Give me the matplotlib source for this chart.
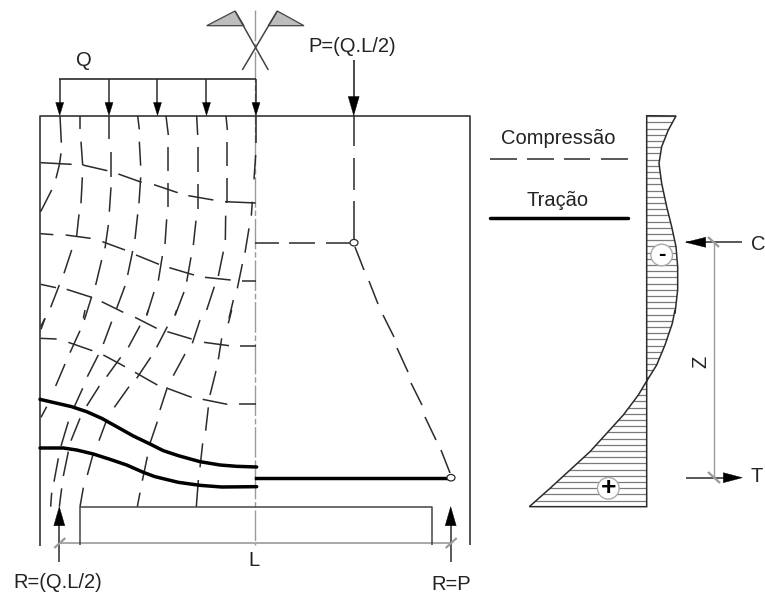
import numpy as np
import matplotlib
matplotlib.use("Agg")
import matplotlib.pyplot as plt
from matplotlib.patches import Polygon, Ellipse, Circle

plt.rcParams['font.family'] = ['Liberation Sans', 'DejaVu Sans']

DARK = '#2b2b2b'
MID = '#444444'
GRAY = '#9a9a9a'
FS = 14.5

# strut segments measured on the upper-left region (x0=30, y0=100, scale 3)
upper_struts = [
    [(90,48),(94,128)], [(93,160),(88,195),(78,235)], [(65,270),(32,335)],
    [(150,48),(150,88)], [(153,125),(158,195)], [(157,232),(153,310)], [(147,343),(140,408)],
    [(125,450),(102,520)], [(88,555),(62,622)], [(45,655),(32,680)],
    [(238,48),(238,118)], [(242,155),(242,230)], [(243,262),(238,335)], [(235,375),(225,445)],
    [(215,480),(197,555)], [(185,590),(163,660)],
    [(323,48),(328,88)], [(328,125),(332,197)], [(332,232),(327,310)], [(323,343),(315,417)],
    [(308,453),(293,525)], [(285,558),(260,625)],
    [(408,48),(415,105)], [(415,140),(415,212)], [(415,250),(415,322)], [(410,358),(405,432)],
    [(397,468),(385,542)], [(372,576),(350,647)],
    [(500,48),(503,105)], [(503,142),(503,215)], [(503,253),(503,327)], [(498,362),(490,435)],
    [(483,472),(470,545)], [(462,576),(435,647)],
    [(588,48),(592,90)], [(592,125),(592,198)], [(592,235),(592,308)], [(587,347),(586,420)],
    [(580,455),(565,528)], [(553,560),(530,630)],
    [(677,48),(677,128)], [(677,165),(672,238)], [(667,305),(664,347)], [(657,385),(645,458)],
    [(637,492),(622,565)], [(610,600),(597,655)],
    [(32,188),(125,193)], [(158,195),(232,212)], [(265,222),(335,247)], [(372,254),(443,278)],
    [(475,287),(550,300)], [(585,305),(677,309)],
    [(32,401),(70,404)], [(107,405),(182,415)], [(217,425),(285,450)], [(318,465),(387,493)],
    [(418,503),(492,525)], [(525,532),(602,540)], [(637,542),(677,542)],
    [(32,553),(78,563)], [(110,568),(185,592)], [(215,605),(280,637)],
]

# strut segments measured on the lower-left region (x0=30, y0=310, scale 3)
lower_struts = [
    [(315,22),(380,55)], [(412,65),(485,87)], [(522,97),(597,107)], [(630,107),(677,107)],
    [(32,85),(80,87)], [(115,97),(187,122)], [(220,135),(285,170)], [(315,187),(382,225)],
    [(412,235),(485,262)], [(518,268),(592,283)], [(627,282),(677,282)],
    [(45,25),(33,58)], [(150,62),(120,128)], [(105,162),(77,228)],
    [(245,35),(220,102)], [(205,135),(172,200)], [(158,235),(133,290)], [(115,335),(93,408)],
    [(85,445),(72,515)], [(65,548),(62,590)],
    [(330,47),(295,112)], [(272,142),(230,200)], [(208,228),(170,288)], [(150,325),(123,392)],
    [(115,425),(100,498)], [(95,535),(88,590)],
    [(412,50),(380,112)], [(362,142),(320,205)], [(297,230),(253,292)], [(230,330),(207,392)],
    [(190,430),(172,495)], [(160,533),(150,590)],
    [(510,30),(487,100)], [(465,132),(430,197)], [(412,232),(390,300)], [(382,335),(360,400)],
    [(352,440),(337,512)], [(330,548),(322,590)],
    [(575,85),(565,148)], [(558,183),(540,255)], [(535,292),(527,362)], [(518,400),(510,472)],
    [(505,510),(499,590)],
    [(605,0),(595,40)], [(165,0),(160,25)], [(355,0),(350,15)], [(440,0),(435,15)],
    [(50,290),(33,322)],
]

tie_upper = [(30,268),(60,275),(125,290),(170,305),(215,325),(260,350),(310,378),(360,402),
             (400,422),(445,437),(510,455),(570,465),(620,469),(680,471)]
tie_lower = [(30,414),(100,414),(140,420),(190,432),(240,448),(290,465),(340,487),(375,500),
             (445,517),(510,526),(575,531),(680,530)]

# right half, pixels
right_struts = [
    [(255,242.7),(279,242.7)], [(289,242.7),(315,242.7)], [(326,242.7),(350,242.7)],
    [(355,247),(364,270)], [(369,281),(378,304)], [(383,315),(394,337)], [(397,348),(408,372)],
    [(411,383),(422,405)], [(425,417),(436,440)], [(441,450),(450,473)],
    [(354,115),(354,146)], [(354,158),(354,190)], [(354,201),(354,240)],
]

moment_upper = [(528,48),(505,90),(485,140),(477,190),(485,250),(500,320),(515,380),(528,440),
                (533,500),(533,570),(525,640)]
moment_lower = [(495,0),(487,40),(465,105),(440,165),(412,210),(385,255),(340,315),(290,370),
                (240,425),(180,480),(120,535),(58,590)]

load_x = [59.7, 109, 157.5, 206.5, 256]
legend_dashes = [(490,517),(527,554),(564,590),(601,628)]

fig = plt.figure(figsize=(7.65, 5.97), dpi=100)
ax = fig.add_axes([0, 0, 1, 1])
ax.set_xlim(0, 765)
ax.set_ylim(597, 0)
ax.axis('off')


def conv(seg, x0, y0):
    a = np.array(seg, float)
    return a[:, 0] / 3 + x0, a[:, 1] / 3 + y0


def line(xs, ys, c=DARK, lw=1.1, **kw):
    ax.plot(xs, ys, color=c, lw=lw, solid_capstyle='butt', solid_joinstyle='round', **kw)


def head(tipx, tipy, dx, dy, hw):
    # dx, dy: vector from the tip to the base
    if dx == 0:
        pts = [(tipx, tipy), (tipx - hw / 2, tipy + dy), (tipx + hw / 2, tipy + dy)]
    else:
        pts = [(tipx, tipy), (tipx + dx, tipy - hw / 2), (tipx + dx, tipy + hw / 2)]
    ax.add_patch(Polygon(pts, closed=True, fc='black', ec='black', lw=0.3, zorder=5))


# beam outline
line([40, 40, 470, 470], [546, 115.7, 115.7, 545], c=MID, lw=1.3)

# centre line and dimension
ax.plot([255.5, 255.5], [10, 545], color=GRAY, lw=1.0, dashes=(22, 2, 4, 2), zorder=1)
line([58, 452], [542.7, 542.7], c=GRAY, lw=1.2)
line([80, 80, 431.7, 431.7], [545, 507, 507, 545], c=MID, lw=1.1)

# struts
for s in upper_struts:
    x, y = conv(s, 30, 100)
    line(x, y)
for s in lower_struts:
    x, y = conv(s, 30, 310)
    line(x, y)
for s in right_struts:
    a = np.array(s)
    line(a[:, 0], a[:, 1])

# ties
for s in (tie_upper, tie_lower):
    x, y = conv(s, 30, 310)
    ax.plot(x, y, color='black', lw=2.5, solid_capstyle='round', zorder=4)
ax.plot([256, 450], [477.7, 477.7], color='black', lw=2.5, zorder=4)

# nodes
for cx, cy in [(354, 242.7), (451, 477.7)]:
    ax.add_patch(Ellipse((cx, cy), 8, 6.5, fc='white', ec=DARK, lw=0.9, zorder=6))

# distributed load
line([59.3, 255.7], [78.7, 78.7], lw=1.2)
for x in load_x:
    line([x, x], [78.7, 104])
    head(x, 115.5, 0, -13, 8)
line([353.7, 353.7], [60, 97], lw=1.2)
head(353.7, 115.5, 0, -19, 11)

# symmetry symbol
for pts in ([(206.7, 25.7), (235, 11), (244, 25.7)], [(268.3, 25.7), (277.3, 11), (304, 25.7)]):
    ax.add_patch(Polygon(pts, closed=True, fc='#bdbdbd', ec=MID, lw=0.9))
line([235, 268.3], [11, 70], c=MID, lw=1.1)
line([277.3, 242.3], [11, 70], c=MID, lw=1.1)

# reactions
for x in (59.3, 450.7):
    line([x, x], [525, 562], lw=1.1)
    head(x, 506.7, 0, 19, 11)
    line([x - 5, x + 6], [548, 538], c=GRAY, lw=1.6)

# legend
for a, b in legend_dashes:
    line([a, b], [159, 159], lw=1.1)
ax.plot([490, 628], [218, 218], color='black', lw=2.5, solid_capstyle='round')

# moment diagram
ux, uy = conv(moment_upper, 500, 100)
lx, ly = conv(moment_lower, 510, 310)
cx = np.r_[646.7, ux, lx, 646.7]
cy = np.r_[115.7, uy, ly, 506.7]
shape = Polygon(np.c_[cx, cy], closed=True, fc='none', ec=DARK, lw=1.1, zorder=3)
ax.add_patch(shape)
for y in np.arange(506.7, 115, -6.2):
    h, = ax.plot([525, 690], [y, y], color='#7a7a7a', lw=0.9, zorder=2)
    h.set_clip_path(shape)

for (x, y, t, fs) in [(661.7, 255, '-', 16), (608.3, 488.3, '+', 19)]:
    ax.add_patch(Circle((x, y), 10.8, fc='white', ec='#aaaaaa', lw=1.0, zorder=6))
    ax.text(x, y - 0.5, t, ha='center', va='center', fontsize=fs, fontweight='bold', zorder=7)

# lever arm
line([714.3, 714.3], [242, 478], c=GRAY, lw=1.0)
line([686, 741.7][::-1], [242.3, 242.3], lw=1.1)
head(685.7, 242.3, 20, 0, 10)
line([686, 724], [477.7, 477.7], lw=1.1)
head(742.3, 477.7, -19, 0, 10)
line([708, 719], [237, 247], c=GRAY, lw=1.6)
line([708, 720], [472, 483], c=GRAY, lw=1.6)

# text
ax.text(84, 61, 'Q', ha='center', va='center', fontsize=FS, color='#222222')
ax.text(352, 46, 'P=(Q.L/2)', ha='center', va='center', fontsize=FS, color='#222222')
ax.text(558, 138, 'Compressão', ha='center', va='center', fontsize=FS, color='#222222')
ax.text(558, 201, 'Tração', ha='center', va='center', fontsize=FS, color='#222222')
ax.text(758, 244, 'C', ha='center', va='center', fontsize=FS, color='#222222')
ax.text(757, 477, 'T', ha='center', va='center', fontsize=FS, color='#222222')
ax.text(701, 362, 'Z', ha='center', va='center', fontsize=FS, color='#222222', rotation=90)
ax.text(58, 582, 'R=(Q.L/2)', ha='center', va='center', fontsize=FS, color='#222222')
ax.text(254, 560, 'L', ha='center', va='center', fontsize=FS, color='#222222')
ax.text(451, 585, 'R=P', ha='center', va='center', fontsize=FS, color='#222222')

fig.savefig('out.png', dpi=100, facecolor='white')
